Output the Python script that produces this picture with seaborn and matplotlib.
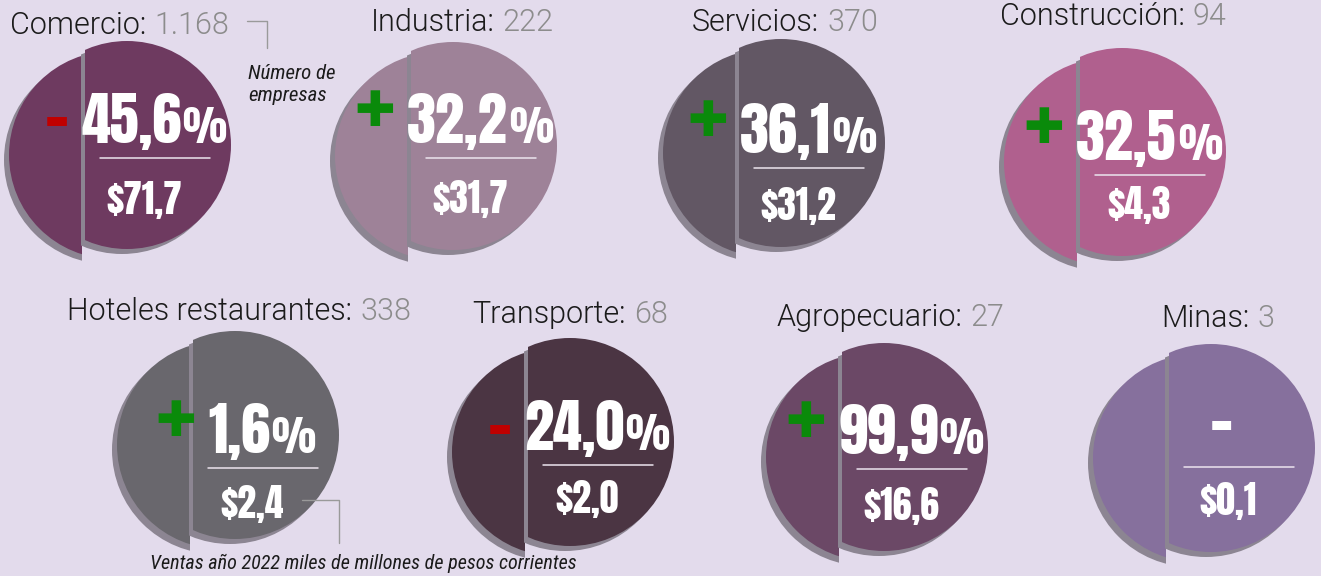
import matplotlib
matplotlib.use("Agg")
import matplotlib.pyplot as plt
from matplotlib.patches import Circle, Rectangle
import seaborn as sns
import numpy as np

# datos
sectores = ["Comercio", "Industria", "Servicios", "Construcción",
            "Hoteles restaurantes", "Transporte", "Agropecuario", "Minas"]
empresas = [1168, 222, 370, 94, 338, 68, 27, 3]
variacion = [-45.6, 32.2, 36.1, 32.5, 1.6, -24.0, 99.9, np.nan]
ventas = [71.7, 31.7, 31.2, 4.3, 2.4, 2.0, 16.6, 0.1]

# estilo
colores = ["#6e3a60", "#9e8298", "#625764", "#b0608e",
           "#69676d", "#4b3543", "#6b4866", "#86709d"]
fondo = "#e3dbec"
sombra = "#8c8592"

# layout (centro de cada circulo en pixeles, desplazamiento del contenido)
centros = [(127, 145), (453, 146), (781, 143), (1122, 152),
           (235, 435), (570, 442), (884, 447), (1211, 448)]
dy_linea = [13, 12, 25, 23, 33, 23, 22, 19]
dy_ventas = [56, 55, 52, 44, 50, 48, 51, 48]
base_titulo = [34, 31, 31, 25, 320, 323, 326, 327]
dx_titulo = [-7, 9, 4, -9, 4, 0, 6, 7]
R = 104

sns.set_theme(style="white")
plt.rcParams["font.family"] = ["Roboto", "Liberation Sans", "DejaVu Sans"]
bignum = ["Anton", "Oswald", "DejaVu Sans"]
nota = ["Roboto Condensed", "Archivo Narrow", "DejaVu Sans"]

fig = plt.figure(figsize=(13.21, 5.76), dpi=100)
fig.patch.set_facecolor(fondo)
ax = fig.add_axes([0, 0, 1, 1])
ax.set_xlim(0, 1321)
ax.set_ylim(576, 0)
ax.set_facecolor(fondo)
ax.axis("off")
renderer = fig.canvas.get_renderer()


def ancho(t):
    return t.get_window_extent(renderer).width


def pieza(x, y, color, x0, x1):
    c = Circle((x, y), R, facecolor=color, edgecolor="none")
    ax.add_patch(c)
    clip = Rectangle((x0, -50), x1 - x0, 700, transform=ax.transData)
    c.set_clip_path(clip)


for i, sec in enumerate(sectores):
    cx, cy = centros[i]
    split = cx - 42
    # pieza izquierda (desplazada)
    lx, ly = cx - 14, cy + 10
    pieza(lx - 5, ly + 5, sombra, -100, split - 3)
    pieza(lx, ly, colores[i], -100, split - 3)
    # pieza derecha
    pieza(cx - 5, cy + 5, sombra, split - 4, 2000)
    pieza(cx, cy, colores[i], split, 2000)

    # titulo
    tb = base_titulo[i]
    t1 = ax.text(0, tb, sec + ":", ha="left", va="baseline",
                 fontsize=22, fontweight=300, color="#1b1b1b")
    t2 = ax.text(0, tb, f"{empresas[i]:,}".replace(",", "."), ha="left",
                 va="baseline", fontsize=22, fontweight=300, color="#8c8c8c")
    w1, w2 = ancho(t1), ancho(t2)
    x0 = cx + dx_titulo[i] - (w1 + 8 + w2) / 2
    t1.set_x(x0)
    t2.set_x(x0 + w1 + 8)

    # linea separadora
    yl = cy + dy_linea[i]
    ax.plot([cx - 27, cx + 83], [yl, yl], color="#ece4ee", lw=1.1)

    # variacion
    pb = yl - 15
    v = variacion[i]
    if np.isnan(v):
        ax.text(cx + 10, pb - 31, "-", ha="center", va="center",
                fontsize=54, color="white", family=bignum)
    else:
        num = ax.text(0, pb, f"{abs(v):.1f}".replace(".", ","), ha="left",
                      va="baseline", fontsize=42, color="white", family=bignum)
        pc = ax.text(0, pb, "%", ha="left", va="baseline", fontsize=30,
                     color="white", family=bignum)
        wn, wp = ancho(num), ancho(pc)
        x0 = cx + 27 - (wn + 1 + wp) / 2
        num.set_x(x0)
        pc.set_x(x0 + wn + 1)
        if v > 0:
            ax.text(x0 - 12, pb - 31, "\u271a", ha="right", va="center",
                    fontsize=35, color="#0a8a0a", family=["DejaVu Sans"])
        else:
            ax.text(x0 - 12, pb - 26, "-", ha="right", va="center",
                    fontsize=56, color="#c00000", family=bignum)

    # ventas
    ax.text(cx + 17, yl + dy_ventas[i],
            "\\$" + f"{ventas[i]:.1f}".replace(".", ","),
            ha="center", va="baseline", fontsize=27, color="white",
            family=bignum)

# notas
ax.plot([247, 267, 267], [21, 21, 48], color="#9a9a9a", lw=1)
ax.text(248, 79, "Número de", ha="left", va="baseline", fontsize=15,
        style="italic", color="#1b1b1b", family=nota)
ax.text(248, 101, "empresas", ha="left", va="baseline", fontsize=15,
        style="italic", color="#1b1b1b", family=nota)
ax.plot([302, 339, 339], [500, 500, 543], color="#9a9a9a", lw=1)
ax.text(150, 569, "Ventas año 2022 miles de millones de pesos corrientes",
        ha="left", va="baseline", fontsize=14.5, style="italic",
        color="#1b1b1b", family=nota)

fig.savefig("out.png", dpi=100, facecolor=fondo)
